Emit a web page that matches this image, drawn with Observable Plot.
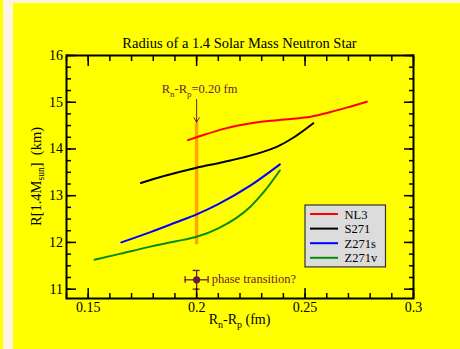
<!DOCTYPE html>
<html><head><meta charset="utf-8">
<script src="https://cdn.jsdelivr.net/npm/d3@7"></script>
<script src="https://cdn.jsdelivr.net/npm/@observablehq/plot@0.6"></script>
<style>
html,body{margin:0;padding:0;background:#ffff00;}
#wrap{position:relative;width:460px;height:349px;overflow:hidden;background:#ffff00;}
.strip{position:absolute;background:#fdf5e1;}
#wrap svg{position:absolute;left:0;top:0;}
</style></head><body>
<div id="wrap">
<div class="strip" style="left:3px;top:0;width:10px;height:349px"></div>
<div class="strip" style="left:3px;top:0;width:457px;height:3px"></div>
</div>
<script>
// ---- data ----
const titleText = "Radius of a 1.4 Solar Mass Neutron Star";
const seriesNames = ["NL3", "S271", "Z271s", "Z271v"];
const seriesColors = ["#ff0000", "#000000", "#0000ff", "#0a8c0a"];

const nl3X = [0.196, 0.200, 0.2125, 0.228, 0.2433, 0.2526, 0.2618, 0.2711, 0.2785];
const nl3Y = [14.19, 14.25, 14.43, 14.57, 14.64, 14.69, 14.79, 14.91, 15.01];

const s271X = [0.1743, 0.185, 0.200, 0.2125, 0.228, 0.2372, 0.2449, 0.2538];
const s271Y = [13.27, 13.42, 13.60, 13.72, 13.90, 14.05, 14.25, 14.55];

const z271sX = [0.1653, 0.1787, 0.190, 0.200, 0.210, 0.2249, 0.2384];
const z271sY = [12.00, 12.22, 12.42, 12.60, 12.82, 13.22, 13.67];

const z271vX = [0.1529, 0.165, 0.1787, 0.190, 0.200, 0.210, 0.2249, 0.231, 0.2384];
const z271vY = [11.63, 11.76, 11.91, 12.02, 12.12, 12.30, 12.77, 13.08, 13.54];

const markerX = 0.2;          // Rn-Rp = 0.20 fm
const orangeY1 = 11.95, orangeY2 = 14.55;
const arrowY1 = 15.06, arrowY2 = 14.57;

const phaseX = [0.2], phaseY = [11.2];
const phaseXErr = [0.0053], phaseYErr = [0.2];

const xTicksMajor = [0.15, 0.2, 0.25, 0.3];
const xTickLabels = ["0.15", "0.2", "0.25", "0.3"];
const xTicksMinor = [0.14,0.15,0.16,0.17,0.18,0.19,0.20,0.21,0.22,0.23,0.24,0.25,0.26,0.27,0.28,0.29,0.30];
const yTicksMajor = [11, 12, 13, 14, 15, 16];
const yTickLabels = ["11", "12", "13", "14", "15", "16"];
const yTicksMinor = [11,11.25,11.5,11.75,12,12.25,12.5,12.75,13,13.25,13.5,13.75,14,14.25,14.5,14.75,15,15.25,15.5,15.75,16];

// ---- build table ----
const allX = [nl3X, s271X, z271sX, z271vX], allY = [nl3Y, s271Y, z271sY, z271vY];
const curves = [];
seriesNames.forEach((s, i) => allX[i].forEach((x, j) => curves.push({series: s, x, y: allY[i][j]})));
const phase = phaseX.map((x, i) => ({x, y: phaseY[i], ex: phaseXErr[i], ey: phaseYErr[i]}));

const maroon = "#6a1a3c";
const font = "'Liberation Serif','Times New Roman',Times,serif";
const W = 460, H = 349, mL = 66, mR = 47, mT = 55, mB = 51;

const tickOpts = {stroke: "black", strokeWidth: 1.5, fill: "none", label: null};
const plot = Plot.plot({
  width: W, height: H,
  marginLeft: mL, marginRight: mR, marginTop: mT, marginBottom: mB,
  style: {background: "transparent", fontFamily: font, fontSize: "14px", color: "black", overflow: "visible"},
  x: {domain: [0.14, 0.30], label: null},
  y: {domain: [10.8, 16], label: null},
  color: {domain: seriesNames, range: seriesColors},
  marks: [
    Plot.ruleX([markerX], {y1: orangeY1, y2: orangeY2, stroke: "#ffa500", strokeWidth: 3.5}),
    Plot.line(curves, {x: "x", y: "y", z: "series", stroke: "series", strokeWidth: 2, curve: "monotone-x"}),
    Plot.arrow([markerX], {x1: d => d, x2: d => d, y1: arrowY1, y2: arrowY2, stroke: maroon, strokeWidth: 1, headLength: 8, bend: 0}),
    // error bars
    Plot.ruleY(phase, {y: "y", x1: d => d.x - d.ex, x2: d => d.x + d.ex, stroke: maroon, strokeWidth: 1.3}),
    Plot.ruleX(phase, {x: "x", y1: d => d.y - d.ey, y2: d => d.y + d.ey, stroke: maroon, strokeWidth: 1.3}),
    Plot.ruleX(phase.flatMap(d => [d.x - d.ex, d.x + d.ex].map(x => ({x, y: d.y}))), {x: "x", y1: d => d.y - 0.072, y2: d => d.y + 0.072, stroke: maroon, strokeWidth: 1.3}),
    Plot.ruleY(phase.flatMap(d => [d.y - d.ey, d.y + d.ey].map(y => ({x: d.x, y}))), {y: "y", x1: d => d.x - 0.0016, x2: d => d.x + 0.0016, stroke: maroon, strokeWidth: 1.3}),
    Plot.dot(phase, {x: "x", y: "y", r: 3.6, fill: maroon, stroke: "none"}),
    Plot.text(phase, {x: "x", y: "y", text: () => "phase transition?", dx: 15, dy: -1, textAnchor: "start", fill: maroon, fontSize: 12.5}),
    // axes ticks (inward)
    Plot.axisX(xTicksMinor, {anchor: "bottom", tickSize: -5, ...tickOpts}),
    Plot.axisX(xTicksMajor, {anchor: "bottom", tickSize: -10, ...tickOpts}),
    Plot.axisX(xTicksMinor, {anchor: "top", tickSize: -5, ...tickOpts}),
    Plot.axisX(xTicksMajor, {anchor: "top", tickSize: -10, ...tickOpts}),
    Plot.axisY(yTicksMinor, {anchor: "left", tickSize: -5, ...tickOpts}),
    Plot.axisY(yTicksMajor, {anchor: "left", tickSize: -10, ...tickOpts}),
    Plot.axisY(yTicksMinor, {anchor: "right", tickSize: -5, ...tickOpts}),
    Plot.axisY(yTicksMajor, {anchor: "right", tickSize: -10, ...tickOpts}),
    // tick labels
    Plot.axisX(xTicksMajor, {anchor: "bottom", tickSize: 0, tickPadding: 4, label: null, tickFormat: (d, i) => xTickLabels[xTicksMajor.indexOf(d)], fontSize: 14}),
    Plot.axisY(yTicksMajor, {anchor: "left", tickSize: 0, tickPadding: 3.5, label: null, tickFormat: (d, i) => yTickLabels[yTicksMajor.indexOf(d)], fontSize: 14}),
    Plot.frame({stroke: "black", strokeWidth: 2})
  ]
});
document.getElementById("wrap").appendChild(plot);

// ---- text with subscripts, title, legend ----
const svg = d3.select(plot);
const xs = plot.scale("x"), ys = plot.scale("y");
const cx = (mL + (W - mR)) / 2, cy = (mT + (H - mB)) / 2;

svg.append("text").attr("x", cx).attr("y", 48).attr("text-anchor", "middle")
  .attr("font-family", font).attr("font-size", 14.5).attr("fill", "black").text(titleText);

function subText(sel, parts, size, subSize, shift) {
  let cur = 0;
  parts.forEach(([t, sub]) => {
    const target = sub ? shift : 0;
    sel.append("tspan").attr("dy", target - cur).attr("font-size", sub ? subSize : size).text(t);
    cur = target;
  });
}

// x label
const xl = svg.append("text").attr("x", cx).attr("y", 323.5).attr("text-anchor", "middle")
  .attr("font-family", font).attr("font-size", 14).attr("fill", "black").attr("xml:space", "preserve");
subText(xl, [["R", 0], ["n", 1], ["-R", 0], ["p", 1], [" (fm)", 0]], 14, 10, 4);

// y label
const yl = svg.append("text").attr("transform", `translate(40.5,${cy}) rotate(-90)`).attr("text-anchor", "middle")
  .attr("font-family", font).attr("font-size", 14.5).attr("fill", "black").attr("xml:space", "preserve");
subText(yl, [["R[1.4M", 0], ["sun", 1], ["]\u00a0\u00a0(km)", 0]], 14.5, 9.5, 3.5);

// annotation
const an = svg.append("text").attr("x", xs.apply(markerX) - 34.5).attr("y", 92.7).attr("text-anchor", "start")
  .attr("font-family", font).attr("font-size", 12.5).attr("fill", maroon).attr("xml:space", "preserve");
subText(an, [["R", 0], ["n", 1], ["-R", 0], ["p", 1], ["=0.20 fm", 0]], 12.5, 9, 4);

// legend
const rowH = 14.6;
const lg = svg.append("g").attr("transform", "translate(305,205)").attr("text-anchor", "start");
lg.append("rect").attr("width", 80.5).attr("height", 4 * rowH + 3.5).attr("fill", "#dcdcdc").attr("stroke", "#333").attr("stroke-width", 1.2);
seriesNames.forEach((s, i) => {
  const yy = 9 + i * rowH;
  lg.append("line").attr("x1", 5).attr("x2", 33).attr("y1", yy).attr("y2", yy).attr("stroke", seriesColors[i]).attr("stroke-width", 2);
  lg.append("text").attr("x", 39.5).attr("y", yy + 4.5).attr("text-anchor", "start").attr("font-family", font).attr("font-size", 12.5).attr("fill", "black").text(s);
});
</script>
</body></html>
